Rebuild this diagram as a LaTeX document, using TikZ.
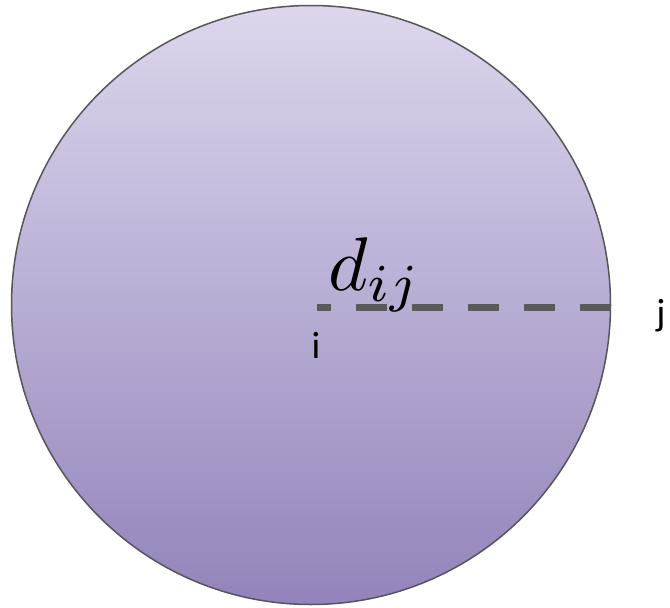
\documentclass[tikz,border=0pt]{standalone}
\usepackage{fontspec}
\newfontfamily\labelfont{Carlito}
\usepackage{xcolor}
\usetikzlibrary{positioning}

\definecolor{diskTop}{RGB}{221,214,236}
\definecolor{diskBottom}{RGB}{147,131,187}
\definecolor{diskRim}{RGB}{85,85,90}
\definecolor{dashGray}{RGB}{90,90,90}

\newcommand{\ptfont}{\labelfont\fontsize{38}{40}\selectfont}

\tikzset{
  disk/.style={circle, draw=diskRim, line width=1.5pt, inner sep=0pt,
    minimum size=599pt, top color=diskTop, bottom color=diskBottom},
  ptlabel/.style={inner sep=0pt},
  distline/.style={draw=dashGray, line width=7pt, dash pattern=on 31pt off 25pt}
}

\begin{document}
\begin{tikzpicture}[x=1pt, y=-1pt]
\useasboundingbox (0,0) rectangle (670,608);

% Disk around point i
\node[disk] (disk) at (311,305) {};

% Points and distance
\coordinate (pi) at (317,307);
\coordinate (pj) at (611,307);
\draw[distline] (pj) -- (pi);

\node[ptlabel, anchor=base] (ilab) at (316,358) {\ptfont i};
\node[ptlabel, anchor=base] (jlab) at (661,325) {\ptfont j};
\node[inner sep=0pt, anchor=base west] (dlab) at (328,290)
  {\scalebox{7.6}{$d_{ij}$}};
\end{tikzpicture}
\end{document}
